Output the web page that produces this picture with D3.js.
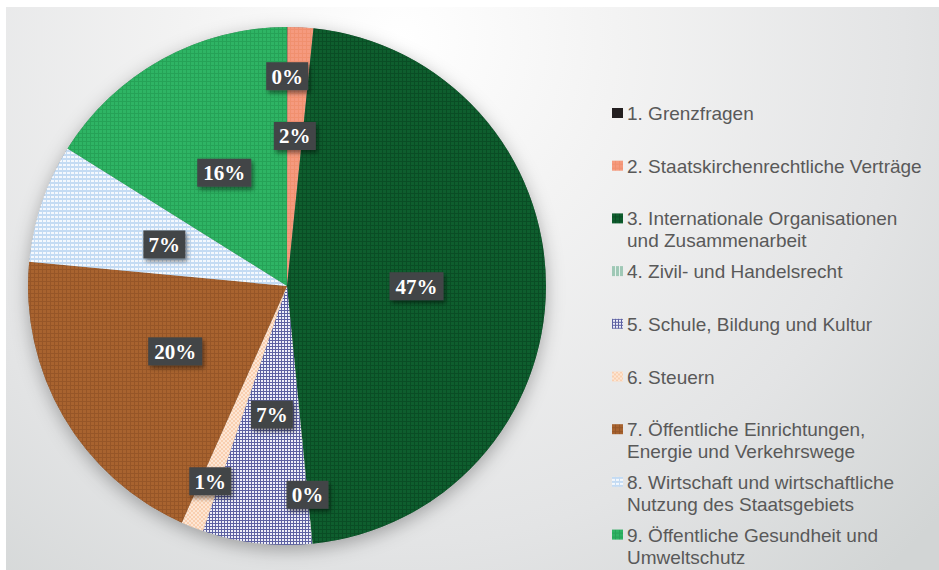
<!DOCTYPE html>
<html>
<head>
<meta charset="utf-8">
<script src="https://cdn.jsdelivr.net/npm/d3@7"></script>
<style>
  html, body { margin: 0; padding: 0; background: #ffffff; }
  svg { display: block; }
</style>
</head>
<body>
<div id="chart"></div>
<script>
const categories = [
  "1. Grenzfragen",
  "2. Staatskirchenrechtliche Verträge",
  "3. Internationale Organisationen\nund Zusammenarbeit",
  "4. Zivil- und Handelsrecht",
  "5. Schule, Bildung und Kultur",
  "6. Steuern",
  "7. Öffentliche Einrichtungen,\nEnergie und Verkehrswege",
  "8. Wirtschaft und wirtschaftliche\nNutzung des Staatsgebiets",
  "9. Öffentliche Gesundheit und\nUmweltschutz"
];
const shares = [0.03, 1.6, 46.8, 0.03, 6.8, 1.4, 19.84, 7.4, 16.1];

// fill textures, one per category
const fills = [
  { id: "p1", base: "#231f20", kind: "solid" },
  { id: "p2", base: "#f59a7e", kind: "grid", line: "#f0906f" },
  { id: "p3", base: "#0e5e2e", kind: "grid", line: "#0a4d25" },
  { id: "p4", base: "#e6f1ec", kind: "vstripe", line: "#9fc8b6" },
  { id: "p5", base: "#ffffff", kind: "check", line: "#5d61a2" },
  { id: "p6", base: "#fde6d4", kind: "checker", line: "#f9cfb0" },
  { id: "p7", base: "#a8632f", kind: "grid", line: "#965628" },
  { id: "p8", base: "#f4f8fd", kind: "weave", line: "#c4dbf3" },
  { id: "p9", base: "#2eb464", kind: "grid", line: "#26a257" }
];

const W = 939, H = 570;
const cx = 287, cy = 286, R = 259;

const svg = d3.select("#chart").append("svg")
  .attr("width", W).attr("height", H);

const defs = svg.append("defs");

const bg = defs.append("radialGradient")
  .attr("id", "bg")
  .attr("gradientUnits", "userSpaceOnUse")
  .attr("cx", 400).attr("cy", 40).attr("r", 720);
bg.append("stop").attr("offset", "0%").attr("stop-color", "#ffffff");
bg.append("stop").attr("offset", "30%").attr("stop-color", "#f3f3f3");
bg.append("stop").attr("offset", "70%").attr("stop-color", "#e3e4e5");
bg.append("stop").attr("offset", "100%").attr("stop-color", "#d2d5d5");

const pieShadow = defs.append("filter").attr("id", "pieShadow")
  .attr("x", "-20%").attr("y", "-20%").attr("width", "140%").attr("height", "140%");
pieShadow.append("feDropShadow")
  .attr("dx", 0).attr("dy", 5).attr("stdDeviation", 9)
  .attr("flood-color", "#000").attr("flood-opacity", 0.3);

const boxShadow = defs.append("filter").attr("id", "boxShadow")
  .attr("x", "-30%").attr("y", "-30%").attr("width", "170%").attr("height", "170%");
boxShadow.append("feDropShadow")
  .attr("dx", 2).attr("dy", 3).attr("stdDeviation", 2)
  .attr("flood-color", "#000").attr("flood-opacity", 0.45);

fills.forEach(f => {
  const p = defs.append("pattern")
    .attr("id", f.id)
    .attr("patternUnits", "userSpaceOnUse")
    .attr("width", 4).attr("height", 4);
  p.append("rect").attr("width", 4).attr("height", 4).attr("fill", f.base);
  if (f.kind === "grid") {
    p.append("rect").attr("x", 0).attr("y", 3).attr("width", 4).attr("height", 1).attr("fill", f.line);
    p.append("rect").attr("x", 3).attr("y", 0).attr("width", 1).attr("height", 4).attr("fill", f.line);
  } else if (f.kind === "vstripe") {
    p.append("rect").attr("x", 0).attr("y", 0).attr("width", 3).attr("height", 4).attr("fill", f.line);
  } else if (f.kind === "check") {
    p.attr("width", 3).attr("height", 3);
    p.select("rect").attr("width", 3).attr("height", 3).attr("fill", f.line);
    p.append("rect").attr("x", 1).attr("y", 1).attr("width", 2).attr("height", 2).attr("fill", "#eeeef8");
  } else if (f.kind === "checker") {
    p.append("rect").attr("x", 0).attr("y", 0).attr("width", 2).attr("height", 2).attr("fill", f.line);
    p.append("rect").attr("x", 2).attr("y", 2).attr("width", 2).attr("height", 2).attr("fill", f.line);
  } else if (f.kind === "weave") {
    p.append("rect").attr("x", 0).attr("y", 0).attr("width", 4).attr("height", 2).attr("fill", f.line);
    p.append("rect").attr("x", 3).attr("y", 2).attr("width", 1).attr("height", 2).attr("fill", f.line);
  }
});

// background panel
svg.append("rect")
  .attr("x", 6).attr("y", 7)
  .attr("width", W - 6).attr("height", H - 7)
  .attr("fill", "url(#bg)");

const pie = d3.pie().sort(null).value(d => d)(shares);
const arc = d3.arc().innerRadius(0).outerRadius(R);

const gPie = svg.append("g")
  .attr("transform", `translate(${cx},${cy})`);

gPie.append("circle").attr("r", R).attr("fill", "#888").attr("filter", "url(#pieShadow)");

gPie.selectAll("path.slice")
  .data(pie)
  .join("path")
  .attr("class", "slice")
  .attr("d", arc)
  .attr("fill", (d, i) => `url(#${fills[i].id})`);

// data labels
const labels = [];
pie.forEach((d, i) => {
  const mid = (d.startAngle + d.endAngle) / 2;
  const small = d.value < 3;
  let r = small ? R * 0.81 : R * 0.5;
  let pos = d3.pointRadial(mid, r);
  const text = Math.round(d.value) + "%";
  const bw = text.length * 12 + 18, bh = 28;
  const hit = l => Math.abs(l.x - pos[0]) < (l.w + bw) / 2 && Math.abs(l.y - pos[1]) < (l.h + bh) / 2;
  if (small && labels.some(hit)) {
    r = R * 0.58;
    pos = d3.pointRadial(mid, r);
  }
  labels.push({ x: pos[0], y: pos[1], w: bw, h: bh, text });
});

const gLab = gPie.selectAll("g.lab")
  .data(labels)
  .join("g")
  .attr("class", "lab")
  .attr("transform", d => `translate(${d.x},${d.y})`);

gLab.append("rect")
  .attr("x", d => -d.w / 2).attr("y", d => -d.h / 2)
  .attr("width", d => d.w).attr("height", d => d.h)
  .attr("fill", "#434547")
  .attr("filter", "url(#boxShadow)");

gLab.append("text")
  .attr("text-anchor", "middle")
  .attr("y", 7.5)
  .style("font-family", "'Liberation Serif', 'DejaVu Serif', serif")
  .style("font-weight", "bold")
  .style("font-size", "21px")
  .style("fill", "#ffffff")
  .text(d => d.text);

// legend
const legend = svg.append("g").attr("transform", "translate(612,120)");
const step = 52.7;
categories.forEach((c, i) => {
  const item = legend.append("g").attr("transform", `translate(0,${i * step})`);
  item.append("rect")
    .attr("x", 0).attr("y", -12)
    .attr("width", 11).attr("height", 10)
    .attr("fill", `url(#${fills[i].id})`);
  const t = item.append("text")
    .attr("x", 15).attr("y", 0)
    .style("font-family", "'Liberation Sans', Arial, sans-serif")
    .style("font-size", "19px")
    .style("fill", "#595959");
  c.split("\n").forEach((line, j) => {
    t.append("tspan").attr("x", 15).attr("dy", j === 0 ? 0 : 22).text(line);
  });
});
</script>
</body>
</html>
